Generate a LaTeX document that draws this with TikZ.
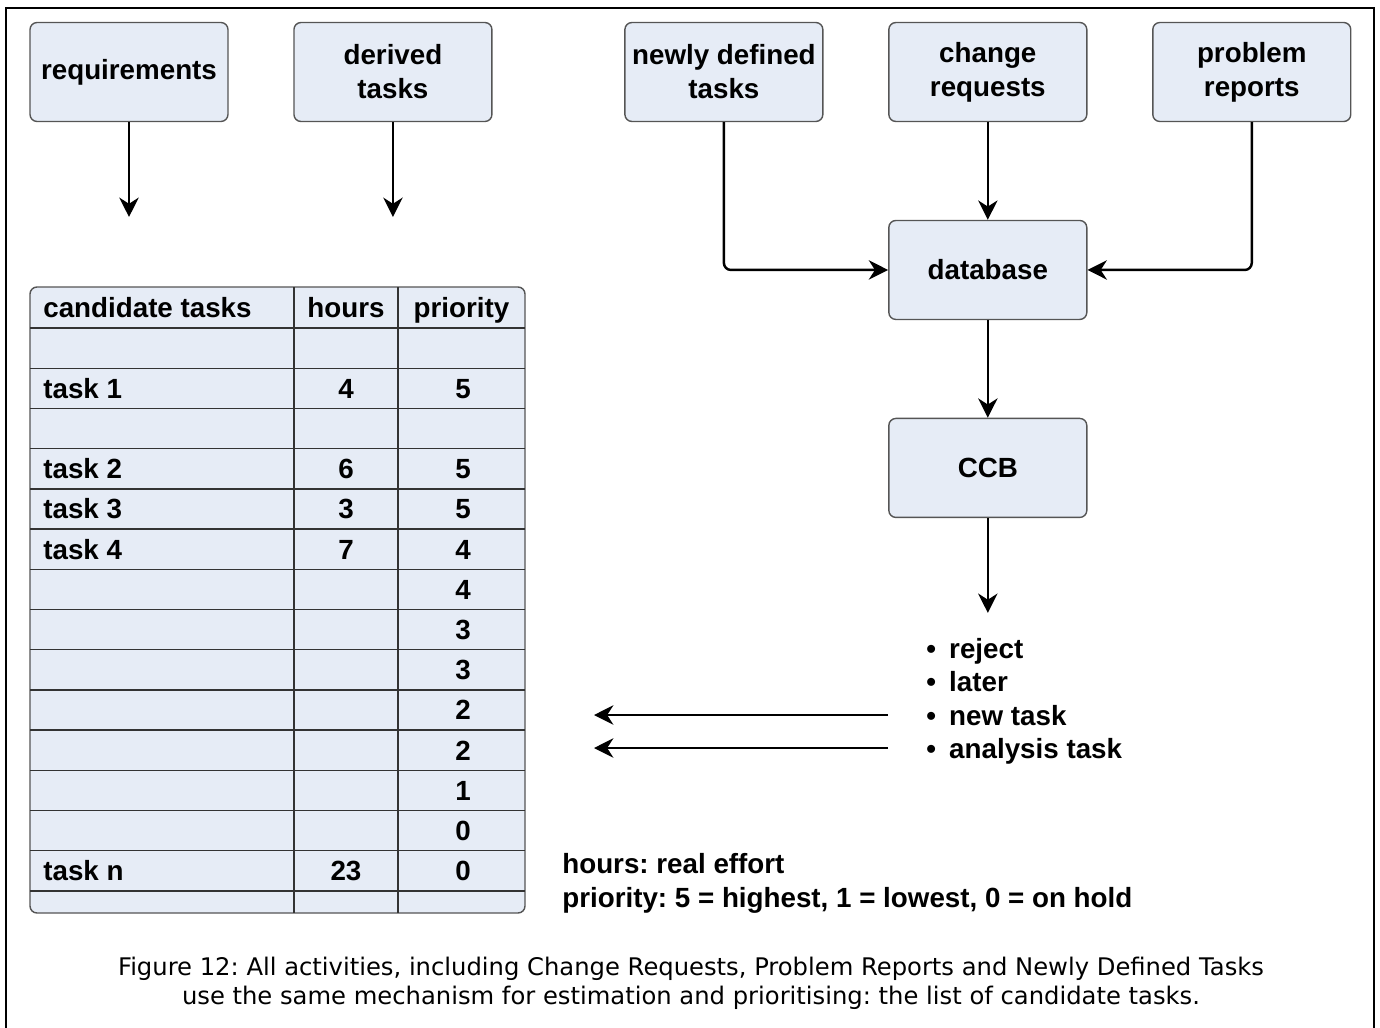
\documentclass[tikz,border=0pt]{standalone}
\usepackage{fontspec}
\setmainfont{Liberation Sans}
\newfontfamily\capfont{DejaVu Sans}
\usetikzlibrary{positioning,arrows.meta}
\definecolor{boxfill}{RGB}{230,236,246}
\definecolor{boxline}{RGB}{85,85,85}
\newcommand\boxsize{\fontsize{15.8}{19.3}\selectfont}
\frenchspacing

\begin{document}
\begin{tikzpicture}[
  x=0.02cm, y=-0.02cm,
  box/.style={rectangle, rounded corners=4pt, draw=boxline, fill=boxfill, line width=0.8pt,
    minimum width=3.96cm, minimum height=1.98cm, align=center, font=\bfseries\boxsize},
  flow/.style={-{Stealth[length=11pt, width=11pt, inset=3.5pt]}, line width=1.4pt, rounded corners=4pt},
  cell/.style={font=\bfseries\boxsize, inner sep=0pt, anchor=base},
  item/.style={font=\bfseries\boxsize, inner sep=0pt, anchor=base west},
  node distance=5.28cm
]
\useasboundingbox (0,0) rectangle (1380,1028);
\draw[line width=1.4pt] (6,1028) -- (6,8) -- (1374,8) -- (1374,1028);

% input boxes
\node[box] (req) at (129,72) {requirements};
\node[box, right of=req] (der) {derived\\tasks};
\node[box, right of=der, node distance=6.62cm] (new) {newly defined\\tasks};
\node[box, right of=new] (chg) {change\\requests};
\node[box, right of=chg] (prb) {problem\\reports};
\node[box, below of=chg, node distance=3.96cm] (db) {database};
\node[box, below of=db, node distance=3.96cm] (ccb) {CCB};

\coordinate[below of=req, node distance=2.9cm] (reqend);
\coordinate[below of=der, node distance=2.9cm] (derend);
\coordinate[below of=ccb, node distance=2.9cm] (ccbend);

\draw[flow] (req) -- (reqend);
\draw[flow] (der) -- (derend);
\draw[flow] (new) |- (db);
\draw[flow] (prb) |- (db);
\draw[flow] (chg) -- (db);
\draw[flow] (db) -- (ccb);
\draw[flow] (ccb) -- (ccbend);

% CCB decisions
\node[item] (rej) at (926,658) {\textbullet\hspace{7.5pt}reject};
\node[item] (lat) at (926,691) {\textbullet\hspace{7.5pt}later};
\node[item] (newt) at (926,725) {\textbullet\hspace{7.5pt}new task};
\node[item] (ana) at (926,758) {\textbullet\hspace{7.5pt}analysis task};

\coordinate (back1) at (594,715);
\coordinate (back2) at (594,748);
\draw[flow] (888,715) coordinate (from1) -- (back1);
\draw[flow] (888,748) coordinate (from2) -- (back2);

% list of candidate tasks
\draw[draw=boxline, fill=boxfill, line width=0.8pt, rounded corners=4pt] (30,287) rectangle (525,913);
\foreach \k in {0,...,14}
  \draw[line width=0.8pt, draw=black!80] (30,328+40.2*\k) -- (525,328+40.2*\k);
\draw[line width=0.8pt, draw=black!80] (294,287) -- (294,913);
\draw[line width=0.8pt, draw=black!80] (398,287) -- (398,913);

\node[cell, anchor=base west] (hdtask) at (43,317) {candidate tasks};
\node[cell] (hdhrs) at (346,317) {hours};
\node[cell] (hdprio) at (461.5,317) {priority};

\foreach \r/\t/\h/\p in {2/task 1/4/5, 4/task 2/6/5, 5/task 3/3/5, 6/task 4/7/4,
    7///4, 8///3, 9///3, 10///2, 11///2, 12///1, 13///0, 14/task n/23/0} {
  \node[cell, anchor=base west] (t\r) at (43,317.9+40.2*\r) {\t};
  \node[cell] (h\r) at (346,317.9+40.2*\r) {\h};
  \node[cell] (p\r) at (463,317.9+40.2*\r) {\p};
}

% legend
\node[item] (lgd1) at (562,873) {hours: real effort};
\node[item] (lgd2) at (562,907) {priority: 5 = highest, 1 = lowest, 0 = on hold};

\node[align=center, font=\capfont\fontsize{13.8}{16.4}\selectfont] (caption) at (691,983)
  {Figure 12: All activities, including Change Requests, Problem Reports and Newly Defined Tasks\\
   use the same mechanism for estimation and prioritising: the list of candidate tasks.};
\end{tikzpicture}
\end{document}
